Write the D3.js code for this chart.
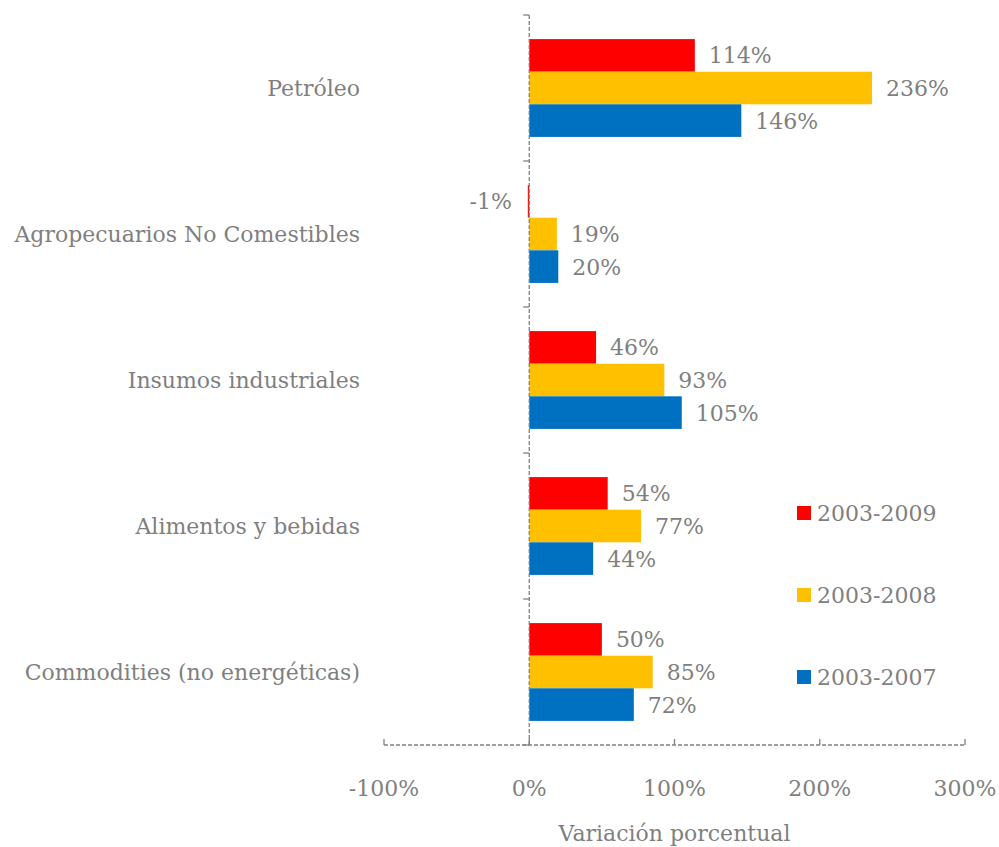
<!DOCTYPE html>
<html>
<head>
<meta charset="utf-8">
<script src="https://cdn.jsdelivr.net/npm/d3@7"></script>
<style>
  body { margin: 0; background: #fff; }
  text { font-family: "DejaVu Serif", serif; fill: #7f7f7f; }
</style>
</head>
<body>
<div id="chart"></div>
<script>
  'use strict';

  // categories, top to bottom
  var categories = ['Petróleo', 'Agropecuarios No Comestibles', 'Insumos industriales',
                    'Alimentos y bebidas', 'Commodities (no energéticas)'];
  // series (drawn in this order inside each group)
  var seriesNames = ['2003-2009', '2003-2008', '2003-2007'];
  var seriesColors = ['#ff0000', '#ffc000', '#0070c0'];
  var v2009 = [114, -1, 46, 54, 50];
  var v2008 = [236, 19, 93, 77, 85];
  var v2007 = [146, 20, 105, 44, 72];
  var xTicks = [-100, 0, 100, 200, 300];

  var W = 999, H = 847;
  var m = { left: 384, right: 34, top: 15, bottom: 102 };
  var FS = '22px';

  var svg = d3.select('#chart').append('svg')
    .attr('width', W).attr('height', H);

  var x = d3.scaleLinear().domain([-100, 300]).range([m.left, W - m.right]);
  var y = d3.scaleBand().domain(categories).range([m.top, H - m.bottom]).paddingInner(0.33).paddingOuter(0.165);
  var ySub = d3.scaleBand().domain(seriesNames).range([0, y.bandwidth()]);

  var values = [v2009, v2008, v2007];

  // bars + value labels
  seriesNames.forEach(function (s, si) {
    var g = svg.append('g');
    g.selectAll('rect').data(categories).enter().append('rect')
      .attr('x', function (d, i) { return x(Math.min(0, values[si][i])); })
      .attr('y', function (d) { return y(d) + ySub(s); })
      .attr('width', function (d, i) { return Math.abs(x(values[si][i]) - x(0)); })
      .attr('height', ySub.bandwidth())
      .attr('fill', seriesColors[si]);

    g.selectAll('text').data(categories).enter().append('text')
      .attr('x', function (d, i) {
        var v = values[si][i];
        return v < 0 ? x(v) - 16 : x(v) + 14;
      })
      .attr('y', function (d) { return y(d) + ySub(s) + ySub.bandwidth() / 2 + 8; })
      .attr('text-anchor', function (d, i) { return values[si][i] < 0 ? 'end' : 'start'; })
      .style('font-size', FS)
      .text(function (d, i) { return values[si][i] + '%'; });
  });

  // axes
  var axisBottom = H - m.bottom;
  var axisStyle = function (sel) {
    sel.attr('stroke', '#808080').attr('stroke-width', 1.3).attr('stroke-dasharray', '4,2').attr('fill', 'none');
  };

  // vertical axis at 0
  svg.append('line').attr('x1', x(0)).attr('x2', x(0)).attr('y1', m.top).attr('y2', axisBottom).call(axisStyle);
  var yEdges = categories.map(function (c) { return y(c) - y.step() * y.paddingInner() / 2; });
  yEdges.push(axisBottom);
  svg.append('g').selectAll('line').data(yEdges).enter().append('line')
    .attr('x1', x(0) - 6).attr('x2', x(0))
    .attr('y1', function (d) { return d; }).attr('y2', function (d) { return d; })
    .attr('stroke', '#808080').attr('stroke-width', 1.3);

  // horizontal axis
  svg.append('line').attr('x1', x(-100)).attr('x2', x(300)).attr('y1', axisBottom).attr('y2', axisBottom).call(axisStyle);
  svg.append('g').selectAll('line').data(xTicks).enter().append('line')
    .attr('x1', function (d) { return x(d); }).attr('x2', function (d) { return x(d); })
    .attr('y1', axisBottom - 6).attr('y2', axisBottom)
    .attr('stroke', '#808080').attr('stroke-width', 1.3);
  svg.append('g').selectAll('text').data(xTicks).enter().append('text')
    .attr('x', function (d) { return x(d); })
    .attr('y', axisBottom + 51)
    .attr('text-anchor', 'middle')
    .style('font-size', FS)
    .text(function (d) { return d + '%'; });

  svg.append('text')
    .attr('x', x(100)).attr('y', H - 6)
    .attr('text-anchor', 'middle')
    .style('font-size', FS)
    .text('Variación porcentual');

  // category labels
  svg.append('g').selectAll('text').data(categories).enter().append('text')
    .attr('x', 360)
    .attr('y', function (d) { return y(d) + y.bandwidth() / 2 + 8; })
    .attr('text-anchor', 'end')
    .style('font-size', FS)
    .text(function (d) { return d; });

  // legend
  var legendY = [513, 595, 677];
  var lg = svg.append('g').selectAll('g').data(seriesNames).enter().append('g')
    .attr('transform', function (d, i) { return 'translate(797,' + legendY[i] + ')'; });
  lg.append('rect').attr('x', 0).attr('y', -7).attr('width', 14).attr('height', 14)
    .attr('fill', function (d, i) { return seriesColors[i]; });
  lg.append('text').attr('x', 20).attr('y', 8).style('font-size', FS)
    .text(function (d) { return d; });
</script>
</body>
</html>
